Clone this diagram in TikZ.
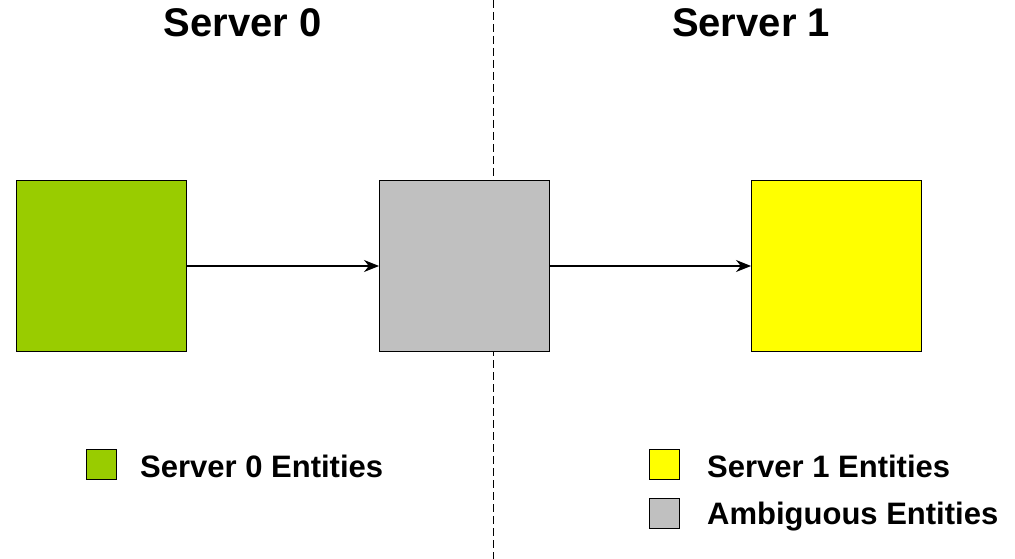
\documentclass[tikz,border=0pt]{standalone}
\usepackage{fontspec}
\setmainfont{Liberation Sans}
\usetikzlibrary{arrows.meta,positioning}
\definecolor{srvzero}{HTML}{99CC00}
\definecolor{ambig}{HTML}{C0C0C0}
\definecolor{srvone}{HTML}{FFFF00}
\begin{document}
\begin{tikzpicture}[x=1pt,y=-1pt,
  ent/.style={draw=black,line width=1pt,minimum size=170pt,inner sep=0pt},
  key/.style={draw=black,line width=1pt,minimum size=30pt,inner sep=0pt},
  keytext/.style={anchor=base west,inner sep=0pt,font=\bfseries\fontsize{31}{36}\selectfont},
  title/.style={anchor=base,inner sep=0pt,font=\bfseries\fontsize{40}{48}\selectfont},
  arr/.style={-{Stealth[length=15pt,width=12pt]},line width=1.3pt},
  split/.style={draw=black,line width=1pt,dash pattern=on 8pt off 4pt}
]
\useasboundingbox (0,0) rectangle (1015,559);
% titles and divider
\node[title] (h0) at (242.5,37) {Server 0};
\node[title] (h1) at (751,37) {Server 1};
\coordinate (top) at (493,0);
\coordinate (bot) at (493,559);
\draw[split] (top) -- (bot);
% entities
\node[ent,fill=srvzero] (s0) at (101,266) {};
\node[ent,fill=ambig] (amb) at (464.5,266) {};
\node[ent,fill=srvone] (s1) at (836.5,266) {};
\draw[arr] (s0) -- (amb);
\draw[arr] (amb) -- (s1);
% legend
\node[key,fill=srvzero] (k0) at (101.5,464.5) {};
\node[keytext] (t0) at (140,477) {Server 0 Entities};
\node[key,fill=srvone] (k1) at (664.5,464.5) {};
\node[key,fill=ambig,below=18pt of k1] (k2) {};
\node[keytext] (t1) at (707,477) {Server 1 Entities};
\node[keytext] (t2) at (707,524) {Ambiguous Entities};
\end{tikzpicture}
\end{document}
